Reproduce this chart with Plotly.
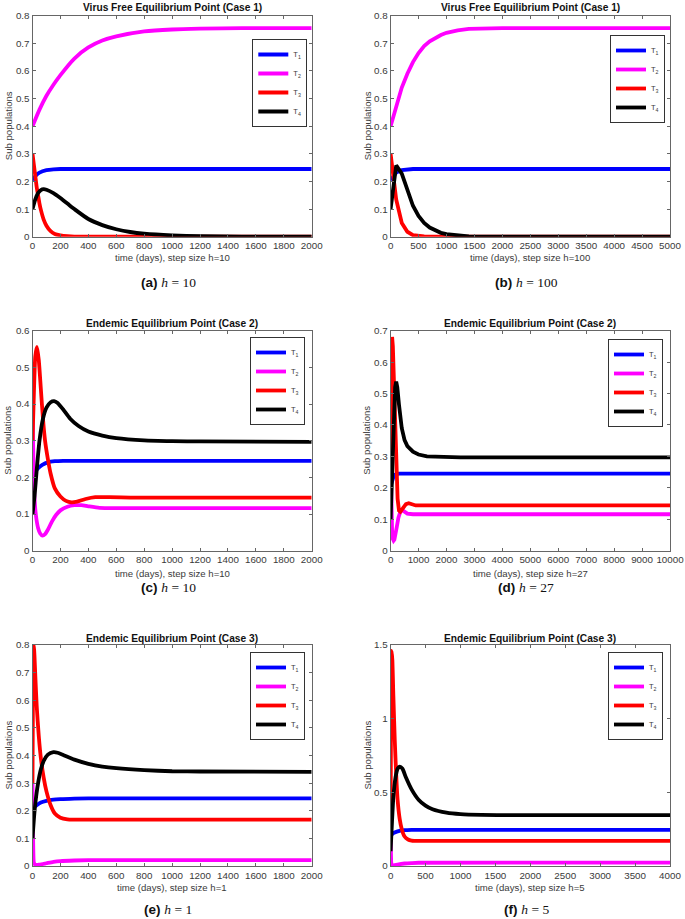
import plotly.graph_objects as go

# ---------------- data ----------------
# (a) Virus free, h=10
A_T1_t = [0, 25, 50, 100, 150, 200, 300, 2000]
A_T1_y = [0.205, 0.222, 0.232, 0.241, 0.244, 0.245, 0.245, 0.245]
A_T2_t = [0, 50, 100, 150, 200, 300, 400, 500, 600, 800, 1000, 1200, 1500, 2000]
A_T2_y = [0.4, 0.46, 0.51, 0.55, 0.585, 0.645, 0.685, 0.71, 0.725, 0.743, 0.75, 0.753, 0.755, 0.755]
A_T3_t = [0, 10, 20, 30, 40, 50, 60, 80, 100, 130, 160, 200, 250, 300, 2000]
A_T3_y = [0.3, 0.26, 0.22, 0.18, 0.15, 0.12, 0.097, 0.062, 0.04, 0.02, 0.01, 0.005, 0.002, 0.0005, 0]
A_T4_t = [0, 20, 40, 60, 80, 100, 150, 200, 250, 300, 400, 500, 600, 700, 800, 1000, 1200, 1500, 2000]
A_T4_y = [0.1, 0.135, 0.158, 0.169, 0.172, 0.17, 0.158, 0.14, 0.12, 0.1, 0.064, 0.042, 0.027, 0.017, 0.011, 0.005, 0.002, 0.0005, 0]

# (b) Virus free, h=100
B_T1_t = [0, 100, 200, 300, 400, 5000]
B_T1_y = [0.205, 0.232, 0.241, 0.244, 0.245, 0.245]
B_T2_t = [0, 100, 200, 300, 400, 500, 600, 700, 800, 900, 1000, 1200, 1400, 1600, 2000, 5000]
B_T2_y = [0.4, 0.475, 0.54, 0.59, 0.632, 0.665, 0.69, 0.707, 0.72, 0.73, 0.738, 0.747, 0.752, 0.754, 0.755, 0.755]
B_T3_t = [0, 100, 200, 300, 400, 500, 600, 800, 5000]
B_T3_y = [0.3, 0.135, 0.05, 0.018, 0.006, 0.002, 0.001, 0, 0]
B_T4_t = [0, 100, 200, 300, 400, 500, 600, 700, 800, 900, 1000, 1200, 1400, 1600, 2000, 5000]
B_T4_y = [0.1, 0.258, 0.228, 0.165, 0.112, 0.075, 0.05, 0.033, 0.022, 0.014, 0.009, 0.004, 0.0015, 0.0005, 0, 0]

# (c) Endemic case 2, h=10
C_T1_t = [0, 20, 40, 70, 110, 160, 220, 2000]
C_T1_y = [0.202, 0.215, 0.225, 0.234, 0.241, 0.244, 0.245, 0.245]
C_T2_t = [0, 4, 8, 15, 25, 40, 55, 72, 90, 110, 140, 170, 200, 250, 300, 350, 400, 480, 600, 2000]
C_T2_y = [0.4, 0.3, 0.22, 0.14, 0.095, 0.062, 0.047, 0.041, 0.045, 0.057, 0.08, 0.098, 0.11, 0.12, 0.124, 0.124, 0.121, 0.117, 0.116, 0.116]
C_T3_t = [0, 10, 20, 32, 45, 60, 75, 90, 110, 130, 160, 200, 240, 280, 320, 380, 450, 550, 700, 2000]
C_T3_y = [0.3, 0.43, 0.53, 0.556, 0.52, 0.44, 0.36, 0.3, 0.25, 0.21, 0.17, 0.148, 0.136, 0.132, 0.134, 0.141, 0.146, 0.146, 0.145, 0.145]
C_T4_t = [0, 15, 30, 50, 75, 100, 130, 155, 180, 220, 270, 330, 400, 500, 600, 800, 1000, 1200, 2000]
C_T4_y = [0.1, 0.15, 0.22, 0.3, 0.36, 0.39, 0.405, 0.408, 0.403, 0.385, 0.36, 0.34, 0.325, 0.314, 0.307, 0.301, 0.299, 0.298, 0.297]

# (d) Endemic case 2, h=27
D_T1_t = [0, 54, 108, 162, 216, 300, 10000]
D_T1_y = [0.205, 0.225, 0.236, 0.242, 0.244, 0.245, 0.245]
D_T2_t = [0, 27, 54, 81, 108, 135, 170, 220, 280, 350, 420, 500, 600, 800, 10000]
D_T2_y = [0.3, 0.14, 0.06, 0.037, 0.032, 0.035, 0.048, 0.075, 0.105, 0.124, 0.129, 0.124, 0.118, 0.116, 0.116]
D_T3_t = [0, 27, 54, 81, 108, 150, 200, 250, 300, 350, 450, 550, 650, 750, 900, 10000]
D_T3_y = [0.3, 0.6, 0.68, 0.65, 0.57, 0.42, 0.27, 0.165, 0.128, 0.124, 0.136, 0.148, 0.151, 0.147, 0.144, 0.144]
D_T4_t = [0, 54, 108, 162, 200, 240, 300, 350, 400, 500, 600, 800, 1000, 1300, 1700, 2500, 10000]
D_T4_y = [0.1, 0.27, 0.42, 0.52, 0.538, 0.52, 0.465, 0.42, 0.39, 0.352, 0.333, 0.315, 0.306, 0.3, 0.298, 0.297, 0.297]

# (e) Endemic case 3, h=1
E_T1_t = [0, 10, 30, 60, 100, 150, 200, 300, 400, 2000]
E_T1_y = [0.2, 0.212, 0.22, 0.23, 0.236, 0.24, 0.242, 0.244, 0.245, 0.245]
E_T2_t = [0, 3, 6, 10, 20, 50, 100, 150, 200, 300, 400, 2000]
E_T2_y = [0.3, 0.15, 0.05, 0.012, 0.004, 0.005, 0.01, 0.015, 0.018, 0.02, 0.021, 0.021]
E_T3_t = [0, 3, 7, 12, 20, 30, 45, 60, 80, 100, 130, 160, 200, 250, 300, 2000]
E_T3_y = [0.3, 0.6, 0.8, 0.78, 0.69, 0.58, 0.47, 0.39, 0.32, 0.27, 0.22, 0.19, 0.175, 0.169, 0.168, 0.168]
E_T4_t = [0, 10, 20, 40, 60, 80, 110, 150, 180, 220, 300, 400, 500, 600, 800, 1000, 1200, 2000]
E_T4_y = [0.1, 0.17, 0.225, 0.3, 0.35, 0.38, 0.403, 0.412, 0.41, 0.402, 0.385, 0.37, 0.36, 0.354, 0.347, 0.343, 0.342, 0.341]

# (f) Endemic case 3, h=5
F_T1_t = [0, 30, 100, 200, 300, 4000]
F_T1_y = [0.2, 0.22, 0.235, 0.243, 0.245, 0.245]
F_T2_t = [0, 5, 10, 20, 50, 100, 200, 300, 400, 4000]
F_T2_y = [0.3, 0.1, 0.02, 0.005, 0.005, 0.01, 0.017, 0.02, 0.022, 0.023]
F_T3_t = [0, 5, 10, 15, 25, 40, 60, 80, 100, 130, 160, 200, 250, 300, 400, 4000]
F_T3_y = [0.3, 0.9, 1.35, 1.46, 1.4, 1.15, 0.85, 0.62, 0.45, 0.32, 0.25, 0.2, 0.18, 0.173, 0.17, 0.17]
F_T4_t = [0, 20, 40, 70, 100, 130, 170, 220, 300, 400, 500, 600, 800, 1000, 1300, 1700, 4000]
F_T4_y = [0.1, 0.3, 0.47, 0.6, 0.66, 0.675, 0.66, 0.6, 0.52, 0.45, 0.41, 0.385, 0.362, 0.352, 0.347, 0.345, 0.345]

SERIES_NAMES = ["T<sub>1</sub>", "T<sub>2</sub>", "T<sub>3</sub>", "T<sub>4</sub>"]
SERIES_COLORS = ["#0000ff", "#ff00ff", "#ff0000", "#000000"]

PANEL_TITLES = ["Virus Free Equilibrium Point (Case 1)", "Virus Free Equilibrium Point (Case 1)",
                "Endemic Equilibrium Point (Case 2)", "Endemic Equilibrium Point (Case 2)",
                "Endemic Equilibrium Point (Case 3)", "Endemic Equilibrium Point (Case 3)"]
X_LABELS = ["time (days), step size h=10", "time (days), step size h=100",
            "time (days), step size h=10", "time (days), step size h=27",
            "time (days), step size h=1", "time (days), step size h=5"]
CAPTION_LETTERS = ["a", "b", "c", "d", "e", "f"]
CAPTION_H = ["10", "100", "10", "27", "1", "5"]
X_MAX = [2000, 5000, 2000, 10000, 2000, 4000]
X_DTICK = [200, 500, 200, 1000, 200, 500]
Y_MAX = [0.8, 0.8, 0.6, 0.7, 0.8, 1.5]
Y_DTICK = [0.1, 0.1, 0.1, 0.1, 0.1, 0.5]
Y_LABEL = "Sub populations"

panels = [
    [(A_T1_t, A_T1_y), (A_T2_t, A_T2_y), (A_T3_t, A_T3_y), (A_T4_t, A_T4_y)],
    [(B_T1_t, B_T1_y), (B_T2_t, B_T2_y), (B_T3_t, B_T3_y), (B_T4_t, B_T4_y)],
    [(C_T1_t, C_T1_y), (C_T2_t, C_T2_y), (C_T3_t, C_T3_y), (C_T4_t, C_T4_y)],
    [(D_T1_t, D_T1_y), (D_T2_t, D_T2_y), (D_T3_t, D_T3_y), (D_T4_t, D_T4_y)],
    [(E_T1_t, E_T1_y), (E_T2_t, E_T2_y), (E_T3_t, E_T3_y), (E_T4_t, E_T4_y)],
    [(F_T1_t, F_T1_y), (F_T2_t, F_T2_y), (F_T3_t, F_T3_y), (F_T4_t, F_T4_y)],
]
LINE_SHAPES = ["spline", "linear", "spline", "linear", "spline", "spline"]

# ---------------- layout geometry ----------------
W, H = 685, 919
COL_X = [(32.5, 311.7), (390.6, 670.0)]
ROW_Y = [(15.7, 236.7), (330.7, 550.7), (645.0, 866.0)]
TITLE_Y = [7, 323, 638]
XLAB_Y = [258, 573, 887]
CAP_Y = [282, 587, 909]
LEG_TOP = [39, 35, 337, 339, 652, 652]
LEG_RIGHT = [307.3, 665, 305, 663, 305, 663]
YLAB_X = [8, 367]

def px(x):
    return x / W

def py(y):
    return 1 - y / H

FONT = "Liberation Sans, Arial, sans-serif"
TXT = "#3a3a3a"

fig = go.Figure()
layout = dict(width=W, height=H, margin=dict(l=0, r=0, t=0, b=0, autoexpand=False),
              paper_bgcolor="white", plot_bgcolor="white", showlegend=True,
              font=dict(family=FONT, color=TXT))
annotations = []

for i, series in enumerate(panels):
    r, c = divmod(i, 2)
    sfx = "" if i == 0 else str(i + 1)
    leg = "legend" if i == 0 else "legend" + str(i + 1)
    for k, (t, y) in enumerate(series):
        fig.add_trace(go.Scatter(
            x=t, y=y, mode="lines", name=SERIES_NAMES[k],
            line=dict(color=SERIES_COLORS[k], width=3.8, shape=LINE_SHAPES[i], smoothing=0.6),
            xaxis="x" + sfx, yaxis="y" + sfx, legend=leg, showlegend=True))
    x0, x1 = COL_X[c]
    y0, y1 = ROW_Y[r]
    axcommon = dict(showline=True, linecolor="#666666", linewidth=1, mirror="ticks",
                    ticks="inside", ticklen=3, tickcolor="#666666", showgrid=False,
                    zeroline=False, automargin=False, tickangle=0,
                    tickfont=dict(size=9.8, color=TXT, family=FONT))
    layout["xaxis" + sfx] = dict(axcommon, domain=[px(x0), px(x1)], range=[0, X_MAX[i]],
                                 dtick=X_DTICK[i], tick0=0, anchor="y" + sfx, tickformat="d")
    layout["yaxis" + sfx] = dict(axcommon, domain=[py(y1), py(y0)], range=[0, Y_MAX[i]],
                                 dtick=Y_DTICK[i], tick0=0, anchor="x" + sfx)
    layout[leg] = dict(x=px(LEG_RIGHT[i]), y=py(LEG_TOP[i]), xanchor="right", yanchor="top",
                       bgcolor="white", bordercolor="#333333", borderwidth=1,
                       font=dict(size=7.5, color=TXT, family=FONT), itemwidth=30,
                       tracegroupgap=0)
    cx = px((x0 + x1) / 2)
    annotations.append(dict(text="<b>" + PANEL_TITLES[i] + "</b>", x=cx, y=py(TITLE_Y[r]),
                            xref="paper", yref="paper", showarrow=False, xanchor="center",
                            yanchor="middle", font=dict(size=10.2, color="#111111", family=FONT)))
    annotations.append(dict(text=X_LABELS[i], x=cx, y=py(XLAB_Y[r]), xref="paper", yref="paper",
                            showarrow=False, xanchor="center", yanchor="middle",
                            font=dict(size=9.6, color=TXT, family=FONT)))
    annotations.append(dict(text=Y_LABEL, x=px(YLAB_X[c]), y=py((y0 + y1) / 2), xref="paper",
                            yref="paper", showarrow=False, textangle=-90, xanchor="center",
                            yanchor="middle", font=dict(size=9.6, color=TXT, family=FONT)))
    cap = ("<b>(" + CAPTION_LETTERS[i] + ")</b> <span style='font-family:Liberation Serif, DejaVu Serif, serif'>"
           "<i>h</i> = " + CAPTION_H[i] + "</span>")
    annotations.append(dict(text=cap, x=cx - px(4), y=py(CAP_Y[r]), xref="paper", yref="paper",
                            showarrow=False, xanchor="center", yanchor="middle",
                            font=dict(size=13.5, color="#111111", family=FONT)))

layout["annotations"] = annotations
fig.update_layout(**layout)
fig.write_html("out.html", config={"displayModeBar": False},
               post_script="document.body.style.margin='0';document.body.style.overflow='hidden';")
